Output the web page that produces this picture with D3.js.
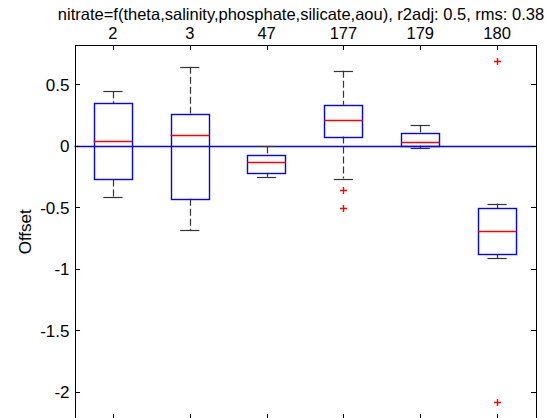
<!DOCTYPE html>
<html>
<head>
<meta charset="utf-8">
<script src="https://cdn.jsdelivr.net/npm/d3@7"></script>
<style>
  html, body { margin: 0; padding: 0; background: #fff; }
  svg { display: block; font-family: "Liberation Sans", Arial, sans-serif; }
</style>
</head>
<body>
<svg id="chart" width="547" height="418"></svg>
<script>
// ---- data ----
const categories   = ["2", "3", "47", "177", "179", "180"];
const upperWhisker = [0.444, 0.644, -0.003, 0.611, 0.168, -0.468];
const q3           = [0.346, 0.263, -0.073, 0.335, 0.106, -0.508];
const medians      = [0.044, 0.087, -0.132, 0.208, 0.030, -0.689];
const q1           = [-0.272, -0.430, -0.219, 0.076, 0.002, -0.886];
const lowerWhisker = [-0.416, -0.684, -0.251, -0.265, -0.019, -0.911];
const outliers     = [[], [], [], [-0.362, -0.508], [], [0.687, -2.085]];
const yTicks       = [-2, -1.5, -1, -0.5, 0, 0.5];
const yDomain      = [-2.22, 0.825];
const titleText    = "nitrate=f(theta,salinity,phosphate,silicate,aou), r2adj: 0.5, rms: 0.38";
const yLabel       = "Offset";

(function () {
// ---- layout ----
const svg = d3.select("#chart");
const L = 74.5, R = 535.5, T = 44.5, B = 419;

const x = d3.scaleLinear().domain([0.5, categories.length + 0.5]).range([L, R]);
const y = d3.scaleLinear().domain(yDomain).range([B, T]);
const boxW = 0.5, capW = 0.25;
const snap = v => Math.round(v) + 0.5;
const SW = 1.4; // coloured line width (soft, like the reference's anti-aliasing)

const rows = categories.map((c, i) => ({
  c, i: i + 1, uw: upperWhisker[i], q3: q3[i], med: medians[i], q1: q1[i], lw: lowerWhisker[i], out: outliers[i]
}));

const g = svg.append("g");

// zero reference line
g.append("line")
  .attr("x1", L).attr("x2", R)
  .attr("y1", snap(y(0))).attr("y2", snap(y(0)))
  .attr("stroke", "#0000ff").attr("stroke-width", SW);

const bx = g.selectAll("g.box").data(rows).join("g").attr("class", "box");

// whiskers (dashed)
bx.append("line")
  .attr("x1", d => snap(x(d.i))).attr("x2", d => snap(x(d.i)))
  .attr("y1", d => y(d.uw)).attr("y2", d => y(d.q3))
  .attr("stroke", "#333").attr("stroke-width", 1.2).attr("stroke-dasharray", "7,3");
bx.append("line")
  .attr("x1", d => snap(x(d.i))).attr("x2", d => snap(x(d.i)))
  .attr("y1", d => y(d.q1)).attr("y2", d => y(d.lw))
  .attr("stroke", "#333").attr("stroke-width", 1.2).attr("stroke-dasharray", "7,3");
// caps
bx.append("line")
  .attr("x1", d => x(d.i - capW / 2)).attr("x2", d => x(d.i + capW / 2))
  .attr("y1", d => snap(y(d.uw))).attr("y2", d => snap(y(d.uw)))
  .attr("stroke", "#333").attr("stroke-width", 1.2);
bx.append("line")
  .attr("x1", d => x(d.i - capW / 2)).attr("x2", d => x(d.i + capW / 2))
  .attr("y1", d => snap(y(d.lw))).attr("y2", d => snap(y(d.lw)))
  .attr("stroke", "#333").attr("stroke-width", 1.2);
// box
bx.append("rect")
  .attr("x", d => snap(x(d.i - boxW / 2)))
  .attr("width", d => Math.round(x(d.i + boxW / 2) - x(d.i - boxW / 2)))
  .attr("y", d => snap(y(d.q3)))
  .attr("height", d => Math.max(1, Math.round(y(d.q1) - y(d.q3))))
  .attr("fill", "none").attr("stroke", "#0000ff").attr("stroke-width", SW);
// median
bx.append("line")
  .attr("x1", d => x(d.i - boxW / 2)).attr("x2", d => x(d.i + boxW / 2))
  .attr("y1", d => snap(y(d.med))).attr("y2", d => snap(y(d.med)))
  .attr("stroke", "#ff0000").attr("stroke-width", SW);
// outliers
bx.selectAll("path.out").data(d => d.out.map(v => ({ i: d.i, v }))).join("path")
  .attr("class", "out")
  .attr("d", d => {
    const cx = snap(x(d.i)), cy = snap(y(d.v)), s = 3.5;
    return `M${cx - s},${cy}H${cx + s}M${cx},${cy - s}V${cy + s}`;
  })
  .attr("stroke", "#ff0000").attr("stroke-width", SW).attr("fill", "none");

// ---- axes ----
const tickLen = 5;
const fmt = v => String(v);
const ticksX = rows.map(d => d.i);
// left axis
const axL = svg.append("g").attr("transform", `translate(${snap(L) - 0.5},0)`)
  .call(d3.axisRight(y).tickValues(yTicks).tickSize(tickLen).tickFormat(""));
axL.select(".domain").remove();
svg.append("g").selectAll("text").data(yTicks).join("text")
  .attr("x", L - 5).attr("y", d => y(d)).attr("dy", "0.36em")
  .attr("text-anchor", "end").attr("font-size", 17).attr("fill", "#000")
  .text(fmt);
// right axis ticks
const axR = svg.append("g").attr("transform", `translate(${snap(R) - 0.5},0)`)
  .call(d3.axisLeft(y).tickValues(yTicks).tickSize(tickLen).tickFormat(""));
axR.select(".domain").remove();
// top axis ticks + labels
const axT = svg.append("g").attr("transform", `translate(0,${snap(T) - 0.5})`)
  .call(d3.axisBottom(x).tickValues(ticksX).tickSize(tickLen).tickFormat(""));
axT.select(".domain").remove();
svg.append("g").selectAll("text").data(rows).join("text")
  .attr("x", d => x(d.i)).attr("y", 38.5)
  .attr("text-anchor", "middle").attr("font-size", 16.5).attr("fill", "#000")
  .text(d => d.c);
// bottom axis ticks
const axB = svg.append("g").attr("transform", `translate(0,${B})`)
  .call(d3.axisTop(x).tickValues(ticksX).tickSize(tickLen).tickFormat(""));
axB.select(".domain").remove();
svg.selectAll(".tick line").attr("stroke", "#000").attr("shape-rendering", "crispEdges");

// frame
svg.append("rect")
  .attr("x", snap(L)).attr("y", snap(T)).attr("width", Math.round(R - L)).attr("height", Math.round(B - T) + 2)
  .attr("fill", "none").attr("stroke", "#000").attr("shape-rendering", "crispEdges");

// title
svg.append("text")
  .attr("x", (L + R) / 2 - 4).attr("y", 20)
  .attr("text-anchor", "middle").attr("font-size", 16.5).attr("fill", "#000")
  .text(titleText);

// y label
svg.append("text")
  .attr("transform", `translate(31,${(T + B) / 2}) rotate(-90)`)
  .attr("text-anchor", "middle").attr("font-size", 17).attr("fill", "#000")
  .text(yLabel);
})();
</script>
</body>
</html>
